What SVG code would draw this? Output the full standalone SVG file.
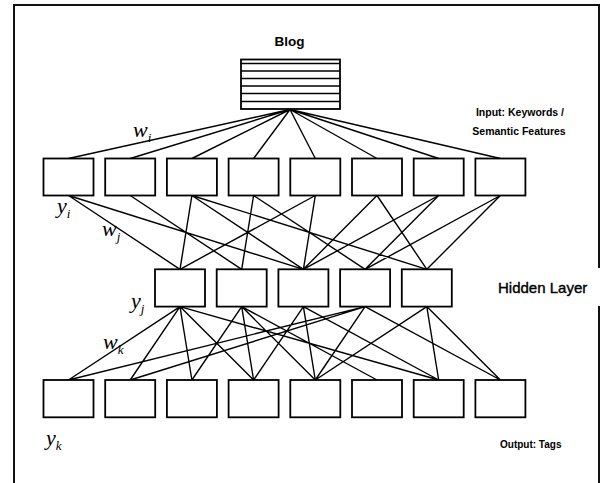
<svg xmlns="http://www.w3.org/2000/svg" width="600" height="483" viewBox="0 0 600 483">
<style>
.box{fill:#fff;stroke:#000;stroke-width:1.8}
.ln{stroke:#000;stroke-width:1.4;fill:none}
.lab{font-family:"Liberation Sans",Arial,sans-serif;font-weight:bold;fill:#000}
.math{font-family:"Liberation Serif","Times New Roman",serif;font-style:italic;fill:#000}
.frame{stroke:#111;stroke-width:2;fill:none}
</style>
<rect width="600" height="483" fill="#fff"/>
<path class="frame" d="M14,483 V5 H599 V483"/>
<g id="connectors" class="ln">
<path d="M290,109.5 L68.5,158.5 M290,109.5 L130.2,158.5 M290,109.5 L191.9,158.5 M290,109.5 L253.6,158.5 M290,109.5 L315.3,158.5 M290,109.5 L377,158.5 M290,109.5 L438.7,158.5 M290,109.5 L500.4,158.5"/>
<path d="M68.5,195.5 L180,269.3 M68.5,195.5 L303.4,269.3 M130.2,195.5 L241.7,269.3 M191.9,195.5 L180,269.3 M191.9,195.5 L303.4,269.3 M191.9,195.5 L426.8,269.3 M253.6,195.5 L241.7,269.3 M253.6,195.5 L365.1,269.3 M315.3,195.5 L180,269.3 M315.3,195.5 L303.4,269.3 M377,195.5 L303.4,269.3 M377,195.5 L426.8,269.3 M438.7,195.5 L303.4,269.3 M438.7,195.5 L365.1,269.3 M500.4,195.5 L365.1,269.3 M500.4,195.5 L426.8,269.3"/>
<path d="M180,306.6 L68.5,380 M180,306.6 L130.2,380 M180,306.6 L191.9,380 M180,306.6 L253.6,380 M180,306.6 L438.7,380 M241.7,306.6 L191.9,380 M241.7,306.6 L253.6,380 M241.7,306.6 L315.3,380 M241.7,306.6 L377,380 M303.4,306.6 L253.6,380 M303.4,306.6 L315.3,380 M303.4,306.6 L438.7,380 M365.1,306.6 L68.5,380 M365.1,306.6 L130.2,380 M365.1,306.6 L315.3,380 M365.1,306.6 L500.4,380 M426.8,306.6 L315.3,380 M426.8,306.6 L438.7,380 M426.8,306.6 L500.4,380"/>
</g>
<g id="blog">
<rect class="box" x="241" y="59.5" width="99" height="49.5"/>
<path class="ln" d="M241,63.5 H340 M241,71 H340 M241,78.5 H340 M241,86 H340 M241,93.5 H340 M241,101.5 H340"/>
<text class="lab" x="289.5" y="46" font-size="13.5" text-anchor="middle">Blog</text>
</g>
<g id="input">
<rect id="i1" class="box" x="43.5" y="158.5" width="50" height="37"/>
<rect id="i2" class="box" x="105.2" y="158.5" width="50" height="37"/>
<rect id="i3" class="box" x="166.9" y="158.5" width="50" height="37"/>
<rect id="i4" class="box" x="228.6" y="158.5" width="50" height="37"/>
<rect id="i5" class="box" x="290.3" y="158.5" width="50" height="37"/>
<rect id="i6" class="box" x="352" y="158.5" width="50" height="37"/>
<rect id="i7" class="box" x="413.7" y="158.5" width="50" height="37"/>
<rect id="i8" class="box" x="475.4" y="158.5" width="50" height="37"/>
</g>
<g id="hidden">
<rect id="h1" class="box" x="155" y="269.3" width="50" height="37.3"/>
<rect id="h2" class="box" x="216.7" y="269.3" width="50" height="37.3"/>
<rect id="h3" class="box" x="278.4" y="269.3" width="50" height="37.3"/>
<rect id="h4" class="box" x="340.1" y="269.3" width="50" height="37.3"/>
<rect id="h5" class="box" x="401.8" y="269.3" width="50" height="37.3"/>
</g>
<g id="output">
<rect id="o1" class="box" x="43.5" y="380" width="50" height="37.3"/>
<rect id="o2" class="box" x="105.2" y="380" width="50" height="37.3"/>
<rect id="o3" class="box" x="166.9" y="380" width="50" height="37.3"/>
<rect id="o4" class="box" x="228.6" y="380" width="50" height="37.3"/>
<rect id="o5" class="box" x="290.3" y="380" width="50" height="37.3"/>
<rect id="o6" class="box" x="352" y="380" width="50" height="37.3"/>
<rect id="o7" class="box" x="413.7" y="380" width="50" height="37.3"/>
<rect id="o8" class="box" x="475.4" y="380" width="50" height="37.3"/>
</g>
<g id="labels">
<text class="lab" x="520" y="115.5" font-size="10.5" text-anchor="middle">Input: Keywords /</text>
<text class="lab" x="519" y="134.5" font-size="10.5" text-anchor="middle">Semantic Features</text>
<rect x="490" y="268" width="112" height="38" fill="#fff"/>
<text x="498" y="292.7" font-size="15" font-family="Liberation Sans,Arial,sans-serif" stroke="#000" stroke-width="0.4">Hidden Layer</text>
<text class="lab" x="500" y="448" font-size="10">Output: Tags</text>
<text class="math" x="133" y="137" font-size="22">w<tspan font-size="13" dy="5">i</tspan></text>
<text class="math" x="57" y="213" font-size="22">y<tspan font-size="13" dy="5">i</tspan></text>
<text class="math" x="102" y="236" font-size="22">w<tspan font-size="13" dy="5">j</tspan></text>
<text class="math" x="131" y="308" font-size="22">y<tspan font-size="13" dy="5">j</tspan></text>
<text class="math" x="103" y="349" font-size="22">w<tspan font-size="13" dy="5">k</tspan></text>
<text class="math" x="46" y="445" font-size="22">y<tspan font-size="13" dy="5">k</tspan></text>
</g>
</svg>
